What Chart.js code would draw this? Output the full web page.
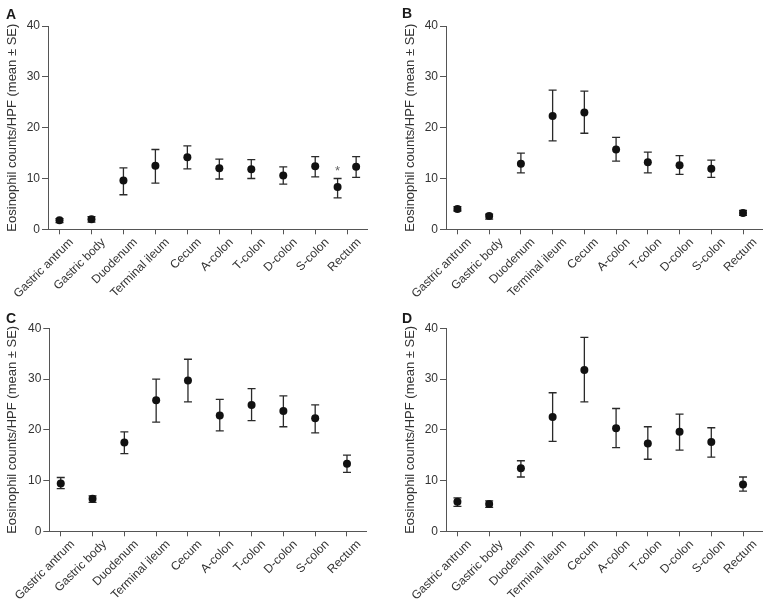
<!DOCTYPE html>
<html><head><meta charset="utf-8">
<script src="https://cdn.jsdelivr.net/npm/chart.js@4.4.1/dist/chart.umd.min.js"></script>
<style>
html,body{margin:0;padding:0;background:#fff;}
#wrap{position:relative;width:770px;height:608px;overflow:hidden;background:#fff;}
canvas{position:absolute;}
.lbl{position:absolute;font:bold 14px 'Liberation Sans',Arial,sans-serif;line-height:14px;color:#1a1a1a;}
</style></head><body>
<div id="wrap">
<canvas id="cA" width="385" height="304" style="left:0;top:0"></canvas>
<canvas id="cB" width="385" height="304" style="left:385px;top:0"></canvas>
<canvas id="cC" width="385" height="304" style="left:0;top:304px"></canvas>
<canvas id="cD" width="385" height="304" style="left:385px;top:304px"></canvas>
<div class="lbl" style="left:6px;top:7px">A</div>
<div class="lbl" style="left:402px;top:6px">B</div>
<div class="lbl" style="left:6px;top:311px">C</div>
<div class="lbl" style="left:402px;top:311px">D</div>
</div>
<script>
// ---------- data ----------
const categories = ['Gastric antrum','Gastric body','Duodenum','Terminal ileum','Cecum','A-colon','T-colon','D-colon','S-colon','Rectum'];
const yTicks = [0, 10, 20, 30, 40];
const yTitle = 'Eosinophil counts/HPF (mean \u00b1 SE)';

// Panel A (has an extra flagged point between S-colon and Rectum)
const posA   = [0, 1, 2, 3, 4, 5, 6, 7, 8, 8.7, 9.28];
const meanA  = [1.8, 2.0, 9.6, 12.5, 14.2, 12.0, 11.8, 10.6, 12.4, 8.3, 12.3];
const upperA = [2.1, 2.5, 12.1, 15.7, 16.4, 13.8, 13.7, 12.3, 14.3, 10.0, 14.3];
const lowerA = [1.3, 1.4, 6.8, 9.1, 11.9, 9.9, 10.0, 8.9, 10.3, 6.2, 10.2];
const marksA = ['', '', '', '', '', '', '', '', '', '*', ''];

// Panel B
const posB   = [0, 1, 2, 3, 4, 5, 6, 7, 8, 9];
const meanB  = [4.0, 2.6, 12.9, 22.3, 23.0, 15.7, 13.2, 12.6, 11.9, 3.2];
const upperB = [4.45, 3.0, 15.0, 27.4, 27.2, 18.1, 15.2, 14.5, 13.6, 3.7];
const lowerB = [3.6, 2.0, 11.1, 17.4, 18.9, 13.4, 11.1, 10.8, 10.2, 2.75];

// Panel C
const posC   = [0, 1, 2, 3, 4, 5, 6, 7, 8, 9];
const meanC  = [9.4, 6.4, 17.5, 25.8, 29.7, 22.8, 24.9, 23.7, 22.3, 13.3];
const upperC = [10.6, 7.0, 19.6, 30.0, 33.9, 26.0, 28.1, 26.7, 24.9, 15.0];
const lowerC = [8.4, 5.7, 15.3, 21.5, 25.5, 19.8, 21.8, 20.6, 19.4, 11.6];

// Panel D
const posD   = [0, 1, 2, 3, 4, 5, 6, 7, 8, 9];
const meanD  = [5.8, 5.4, 12.4, 22.5, 31.8, 20.3, 17.3, 19.6, 17.6, 9.2];
const upperD = [6.6, 6.0, 13.9, 27.3, 38.2, 24.2, 20.6, 23.1, 20.4, 10.7];
const lowerD = [4.9, 4.7, 10.7, 17.7, 25.5, 16.5, 14.2, 16.0, 14.6, 7.9];

// ---------- drawing ----------
const FAM = "'Liberation Sans Narrow','Arial Narrow','Liberation Sans',Arial,sans-serif";
const TXT = '#333';
const AX = '#555';

const errorBarPlugin = {
  id: 'errorBars',
  beforeDatasetsDraw(chart) {
    const {ctx} = chart;
    const x = chart.scales.x, y = chart.scales.y;
    chart.data.datasets.forEach(ds => {
      ds.data.forEach((pt, i) => {
        const px = x.getPixelForValue(pt.x);
        const yh = y.getPixelForValue(ds.upper[i]);
        const yl = y.getPixelForValue(ds.lower[i]);
        ctx.save();
        ctx.strokeStyle = '#2a2a2a';
        ctx.lineWidth = 1.3;
        ctx.beginPath();
        ctx.moveTo(px, yh); ctx.lineTo(px, yl);
        ctx.moveTo(px - 4, yh); ctx.lineTo(px + 4, yh);
        ctx.moveTo(px - 4, yl); ctx.lineTo(px + 4, yl);
        ctx.stroke();
        if (ds.marks && ds.marks[i]) {
          ctx.fillStyle = '#666';
          ctx.font = '13px ' + FAM;
          ctx.textAlign = 'center';
          ctx.textBaseline = 'alphabetic';
          ctx.fillText(ds.marks[i], px, yh - 3);
        }
        ctx.restore();
      });
    });
  }
};

function makeChart(id, pos, mean, upper, lower, marks, L) {
  const data = pos.map((p, i) => ({x: p, y: mean[i]}));
  return new Chart(document.getElementById(id), {
    type: 'scatter',
    data: {
      datasets: [{
        data: data,
        upper: upper,
        lower: lower,
        marks: marks,
        showLine: false,
        pointRadius: 4,
        pointHoverRadius: 4,
        pointBackgroundColor: '#111',
        pointBorderColor: '#111',
        pointBorderWidth: 0
      }]
    },
    plugins: [errorBarPlugin],
    options: {
      responsive: false,
      animation: false,
      events: [],
      layout: {padding: {top: L.top, right: 385 - L.right, left: 0, bottom: 0}},
      plugins: {legend: {display: false}, tooltip: {enabled: false}},
      scales: {
        x: {
          type: 'linear',
          min: -0.36,
          max: 9.62,
          afterFit(s) { s.height = 304 - L.bottom; },
          afterBuildTicks(s) { s.ticks = categories.map((c, i) => ({value: i})); },
          ticks: {
            autoSkip: false,
            maxRotation: 45,
            minRotation: 45,
            labelOffset: 12,
            padding: 1,
            color: TXT,
            font: {family: FAM, size: 12},
            callback: (v) => categories[v] !== undefined ? categories[v] : ''
          },
          grid: {drawOnChartArea: false, drawTicks: true, tickLength: 5, color: AX, tickColor: AX},
          border: {display: true, color: AX, width: 1}
        },
        y: {
          min: 0,
          max: 40,
          afterFit(s) { s.width = L.left; },
          afterBuildTicks(s) { s.ticks = yTicks.map(v => ({value: v})); },
          ticks: {padding: 2, color: TXT, font: {family: FAM, size: 12}},
          grid: {drawOnChartArea: false, drawTicks: true, tickLength: 6, color: AX, tickColor: AX},
          border: {display: true, color: AX, width: 1},
          title: {display: true, text: yTitle, color: TXT, font: {family: FAM, size: 13},
                  padding: {top: L.tpad, bottom: 0}}
        }
      }
    }
  });
}

makeChart('cA', posA, meanA, upperA, lowerA, marksA, {left: 48, right: 367, top: 26, bottom: 229.3, tpad: 5});
makeChart('cB', posB, meanB, upperB, lowerB, null, {left: 61, right: 377.7, top: 26, bottom: 229.3, tpad: 17.5});
makeChart('cC', posC, meanC, upperC, lowerC, null, {left: 49.3, right: 366.7, top: 24.3, bottom: 227.3, tpad: 4.5});
makeChart('cD', posD, meanD, upperD, lowerD, null, {left: 61, right: 377.7, top: 24.3, bottom: 227.3, tpad: 17.5});
</script>
</body></html>
